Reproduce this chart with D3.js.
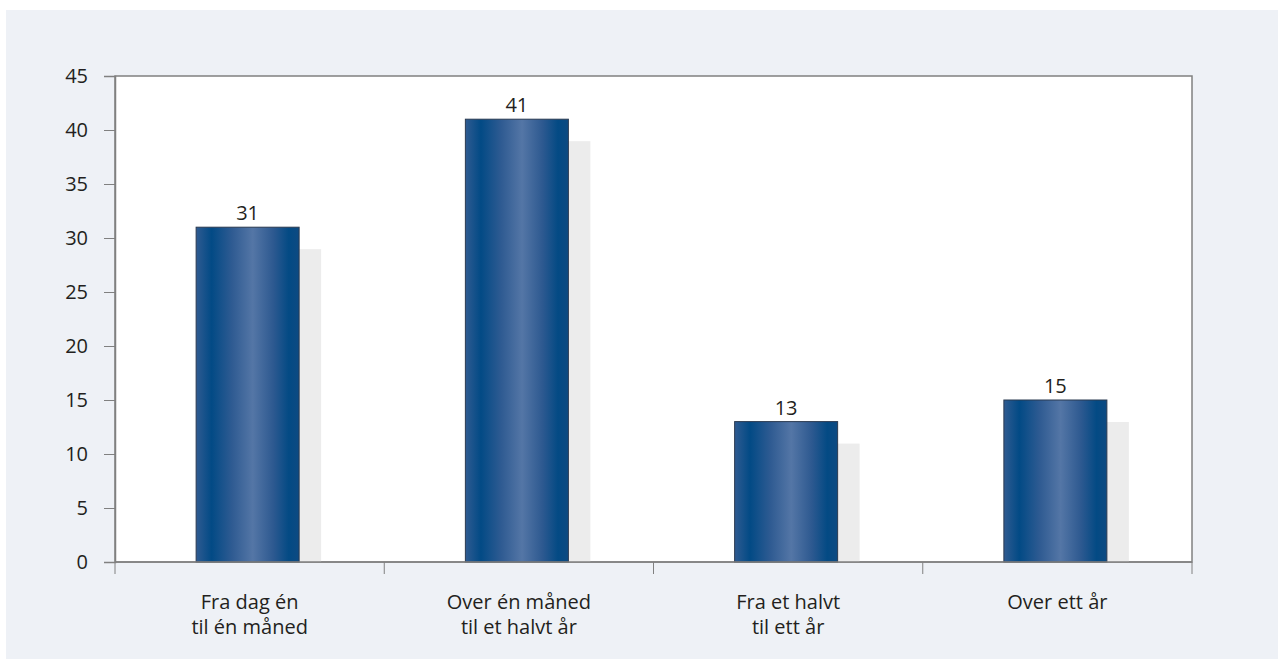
<!DOCTYPE html>
<html>
<head>
<meta charset="utf-8">
<script src="https://cdn.jsdelivr.net/npm/d3@7"></script>
<style>
  html, body { margin: 0; padding: 0; background: #ffffff; }
  svg { display: block; }
  text { font-family: "Open Sans", "Noto Sans", sans-serif; fill: #231f20; }
</style>
</head>
<body>
<svg id="chart" width="1278" height="659"></svg>
<script>
// Varighet – andel i prosent
const categories = [
  ["Fra dag én", "til én måned"],
  ["Over én måned", "til et halvt år"],
  ["Fra et halvt", "til ett år"],
  ["Over ett år"]
];
const values = [31, 41, 13, 15];
const yTicks = [0, 5, 10, 15, 20, 25, 30, 35, 40, 45];

const FONT = '"Open Sans", "Noto Sans", sans-serif';
const FS = 20;

const svg = d3.select("#chart");
const W = 1278, H = 659;
const margin = { left: 115, right: 86, top: 76, bottom: 97 };
const plotW = W - margin.left - margin.right;
const plotH = H - margin.top - margin.bottom;

// panel background
svg.append("rect").attr("x", 6).attr("y", 10).attr("width", W - 6).attr("height", H - 10)
  .attr("fill", "#eef1f6");

const defs = svg.append("defs");
const grad = defs.append("linearGradient").attr("id", "barGrad")
  .attr("x1", "0%").attr("x2", "100%").attr("y1", "0%").attr("y2", "0%");
[
  [0, "#2f5b91"], [0.15, "#024a85"], [0.35, "#2f5b92"], [0.55, "#5476a6"],
  [0.75, "#2d5990"], [0.9, "#034a84"], [1, "#0d4a82"]
].forEach(([o, c]) => grad.append("stop").attr("offset", o).attr("stop-color", c));

const g = svg.append("g").attr("transform", `translate(${margin.left},${margin.top})`);

const x = d3.scaleBand().domain(d3.range(categories.length)).range([0, plotW]).padding(0);
const y = d3.scaleLinear().domain([0, 45]).range([plotH, 0]);

// plot area
g.append("rect").attr("width", plotW).attr("height", plotH).attr("fill", "#ffffff")
  .attr("stroke", "#808080").attr("stroke-width", 1.5);

const barW = 103;
const shadowOff = 22;
const bx = i => x(i) + x.bandwidth() / 2 - 2 - barW / 2;

// shadows
g.append("g").selectAll("rect").data(values).join("rect")
  .attr("x", (d, i) => bx(i) + shadowOff)
  .attr("y", d => y(d) + shadowOff)
  .attr("width", barW)
  .attr("height", d => Math.max(0, plotH - y(d) - shadowOff))
  .attr("fill", "#ececec");

// bars
g.append("g").selectAll("rect").data(values).join("rect")
  .attr("x", (d, i) => bx(i))
  .attr("y", d => y(d))
  .attr("width", barW)
  .attr("height", d => plotH - y(d))
  .attr("fill", "url(#barGrad)")
  .attr("stroke", "#2a3a50").attr("stroke-width", 1);

// value labels
g.append("g").selectAll("text").data(values).join("text")
  .attr("x", (d, i) => bx(i) + barW / 2)
  .attr("y", d => y(d) - 7)
  .attr("text-anchor", "middle")
  .attr("font-size", FS)
  .text(d => d);

// y axis
const yAxis = g.append("g").call(
  d3.axisLeft(y).tickValues(yTicks).tickSize(11).tickPadding(16).tickFormat(d3.format("d"))
);
yAxis.attr("font-size", FS).attr("font-family", FONT);
yAxis.select(".domain").attr("stroke", "#808080").attr("stroke-width", 1.5);
yAxis.selectAll(".tick line").attr("stroke", "#808080");
yAxis.selectAll(".tick text").attr("font-size", FS).attr("fill", "#231f20")
  .style("font-family", FONT);

// x axis category separators
const xAxis = g.append("g").attr("transform", `translate(0,${plotH})`);
xAxis.append("line").attr("x1", 0).attr("x2", plotW).attr("stroke", "#808080").attr("stroke-width", 1.5);
xAxis.selectAll("line.sep").data(d3.range(categories.length + 1)).join("line")
  .attr("class", "sep")
  .attr("x1", i => i < categories.length ? x(i) : plotW)
  .attr("x2", i => i < categories.length ? x(i) : plotW)
  .attr("y1", 0).attr("y2", 12)
  .attr("stroke", "#808080").attr("stroke-width", 1);

// category labels, two lines each
const lab = xAxis.selectAll("text.cat").data(categories).join("text")
  .attr("class", "cat")
  .attr("text-anchor", "middle")
  .attr("font-size", FS)
  .attr("transform", (d, i) => `translate(${x(i) + x.bandwidth() / 2},47)`);
lab.selectAll("tspan").data(d => d).join("tspan")
  .attr("x", 0).attr("dy", (d, j) => j === 0 ? 0 : 25)
  .text(d => d);
</script>
</body>
</html>
